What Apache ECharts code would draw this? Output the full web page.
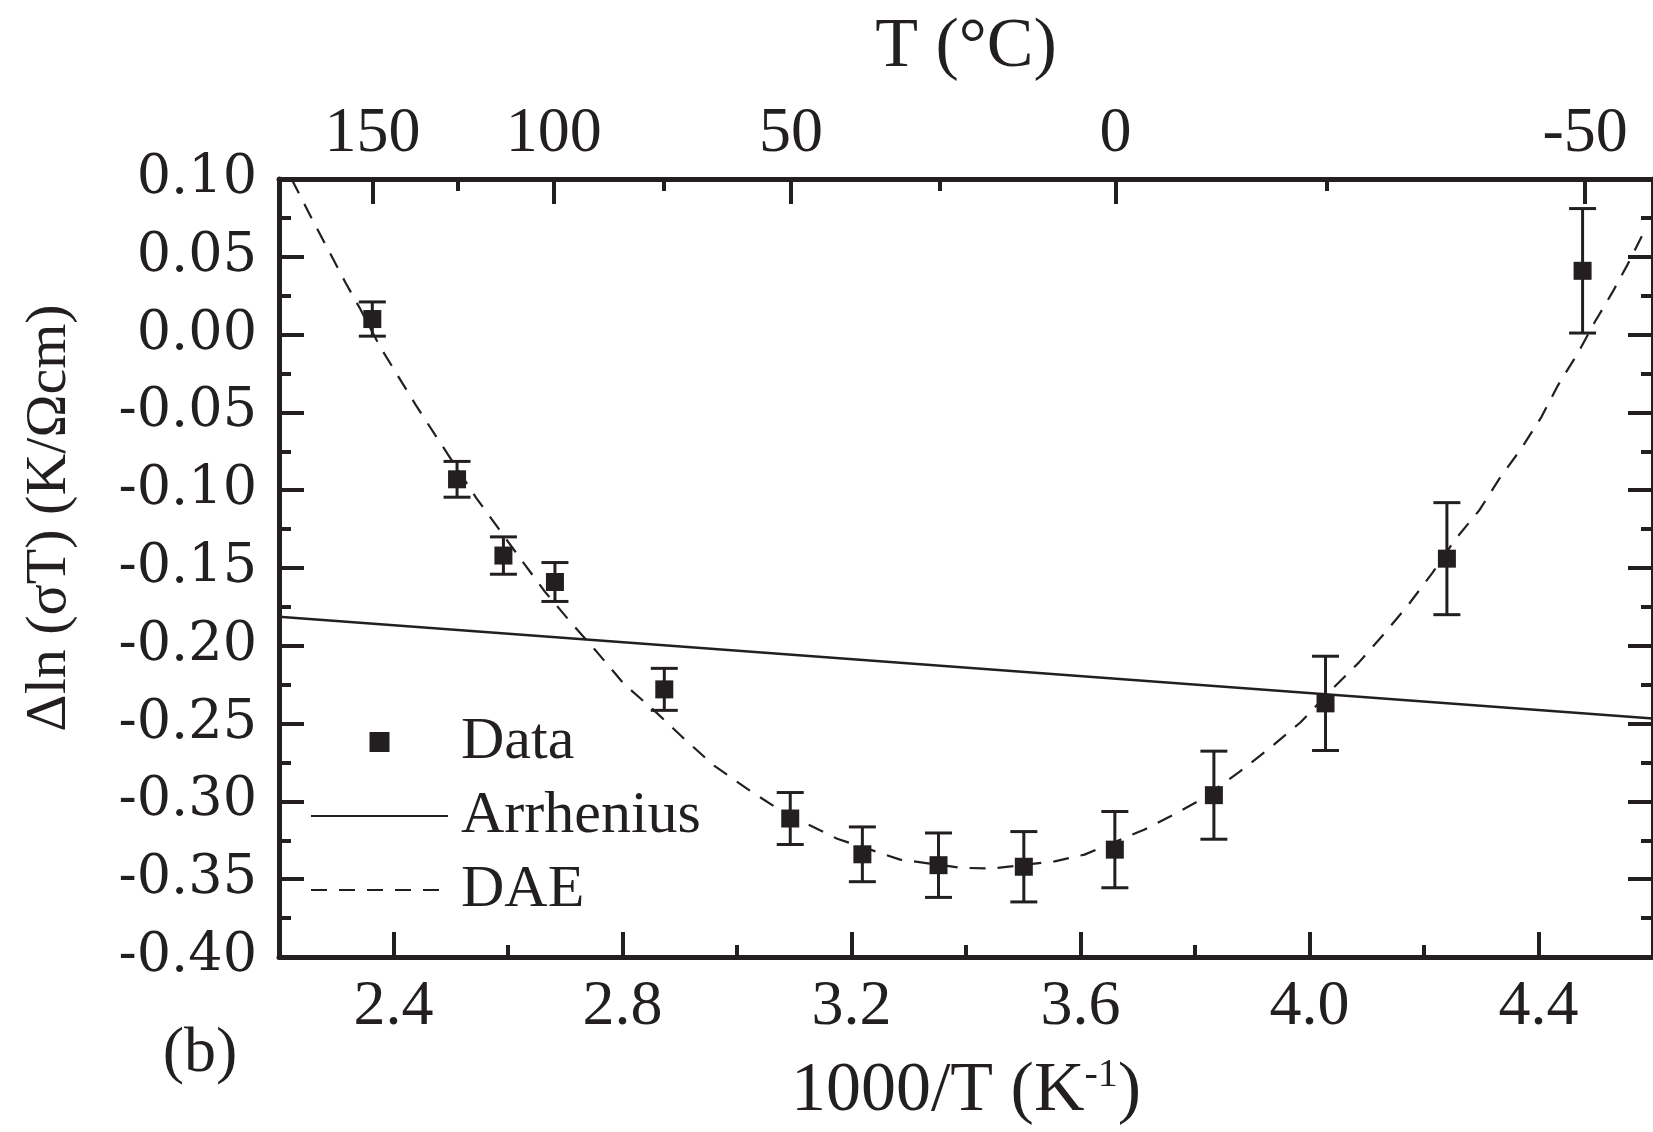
<!DOCTYPE html>
<html>
<head>
<meta charset="utf-8">
<script src="https://cdn.jsdelivr.net/npm/echarts@6/dist/echarts.min.js"></script>
<style>
html,body{margin:0;padding:0;background:#fff;overflow:hidden;}
#chart{width:1653px;height:1132px;}
</style>
</head>
<body>
<div id="chart"></div>
<script>
// ---- data ----
const xMajorTicks = [2.4, 2.8, 3.2, 3.6, 4.0, 4.4];
const xMinorTicks = [2.6, 3.0, 3.4, 3.8, 4.2];
const topLabelCelsius = [150, 100, 50, 0, -50];
const topMinorCelsius = [125, 75, 25, -25];

const dataX = [2.363, 2.511, 2.592, 2.682, 2.873, 3.093, 3.219, 3.352, 3.501, 3.660, 3.833, 4.028, 4.240, 4.477];
const dataY = [0.010, -0.093, -0.142, -0.159, -0.228, -0.311, -0.334, -0.341, -0.342, -0.331, -0.296, -0.237, -0.144, 0.041];
const dataErr = [0.011, 0.0115, 0.012, 0.0125, 0.0135, 0.0167, 0.0176, 0.0207, 0.0226, 0.0245, 0.0283, 0.0303, 0.036, 0.040];

const arrheniusX = [2.2, 4.6];
const arrheniusY = [-0.1814, -0.2467];

const daeX = [2.222, 2.261, 2.287, 2.316, 2.342, 2.377, 2.409, 2.441, 2.475, 2.545, 2.583, 2.623, 2.664, 2.708, 2.754, 2.803, 2.856, 2.908, 2.960, 3.018, 3.067, 3.125, 3.175, 3.285, 3.392, 3.447, 3.555, 3.607, 3.711, 3.769, 3.813, 3.877, 3.932, 3.984, 4.039, 4.086, 4.132, 4.173, 4.215, 4.254, 4.297, 4.332, 4.370, 4.405, 4.434, 4.468, 4.498, 4.529, 4.556, 4.585];
const daeY = [0.100, 0.0719, 0.0538, 0.0335, 0.0164, -0.0081, -0.0273, -0.0465, -0.0657, -0.1052, -0.1244, -0.1447, -0.165, -0.1842, -0.2034, -0.2247, -0.2418, -0.2599, -0.277, -0.292, -0.3037, -0.315, -0.324, -0.3374, -0.3427, -0.3431, -0.3385, -0.3342, -0.3182, -0.3073, -0.2983, -0.2812, -0.2653, -0.2493, -0.228, -0.2108, -0.1916, -0.1735, -0.153, -0.1319, -0.1127, -0.0924, -0.0732, -0.053, -0.0326, -0.0124, 0.0079, 0.0271, 0.0453, 0.0666];

// ---- styling ----
const INK = '#231f20';
const SERIF = '"Liberation Serif", "Times New Roman", serif';
const toInvK = c => 1000 / (c + 273.15);

const chart = echarts.init(document.getElementById('chart'), null, {renderer: 'canvas'});

const baseX = {type: 'value', min: 2.2, max: 4.6, splitLine: {show: false}, gridIndex: 0};
const tickStyle = {color: INK, width: 4};

const option = {
  backgroundColor: '#ffffff',
  animation: false,
  grid: {left: 279, top: 179, width: 1380, height: 781, containLabel: false},
  legend: {
    orient: 'vertical', left: 305, top: 706, itemWidth: 137, itemHeight: 25, itemGap: 12,
    selectedMode: false,
    textStyle: {fontFamily: SERIF, fontSize: 60, color: INK, lineHeight: 62, padding: [0, 0, 0, 8]},
    data: [
      {name: 'Data'},
      {name: 'Arrhenius', itemStyle: {opacity: 0}},
      {name: 'DAE', itemStyle: {opacity: 0}}
    ]
  },
  xAxis: [
    Object.assign({}, baseX, {
      position: 'bottom',
      name: '1000/T (K{sup|-1})', nameLocation: 'middle', nameGap: 98,
      nameTextStyle: {fontFamily: SERIF, fontSize: 70, color: INK,
        rich: {sup: {fontFamily: SERIF, fontSize: 40, color: INK, verticalAlign: 'top', padding: [0, 0, 34, 0]}}},
      axisLine: {onZero: false, lineStyle: {color: INK, width: 5}},
      axisTick: {inside: true, length: 25, lineStyle: tickStyle, customValues: xMajorTicks},
      axisLabel: {customValues: xMajorTicks, margin: 18, fontFamily: SERIF, fontSize: 64, color: INK,
        formatter: v => v.toFixed(1)}
    }),
    Object.assign({}, baseX, {
      position: 'bottom',
      axisLine: {show: false, onZero: false},
      axisTick: {inside: true, length: 12, lineStyle: tickStyle, customValues: xMinorTicks},
      axisLabel: {show: false}
    }),
    Object.assign({}, baseX, {
      position: 'top',
      name: 'T (°C)', nameLocation: 'middle', nameGap: 96,
      nameTextStyle: {fontFamily: SERIF, fontSize: 70, color: INK},
      axisLine: {onZero: false, lineStyle: {color: INK, width: 5}},
      axisTick: {inside: true, length: 25, lineStyle: tickStyle, customValues: topLabelCelsius.map(toInvK)},
      axisLabel: {customValues: topLabelCelsius.map(toInvK), margin: 13, fontFamily: SERIF, fontSize: 64, color: INK,
        formatter: v => String(Math.round(1000 / v - 273.15))}
    }),
    Object.assign({}, baseX, {
      position: 'top',
      axisLine: {show: false, onZero: false},
      axisTick: {inside: true, length: 12, lineStyle: tickStyle, customValues: topMinorCelsius.map(toInvK)},
      axisLabel: {show: false}
    })
  ],
  yAxis: [
    {
      type: 'value', position: 'left', min: -0.4, max: 0.1, interval: 0.05,
      name: 'Δln (σT) (K/Ωcm)', nameLocation: 'middle', nameGap: 200, nameRotate: 90,
      nameTextStyle: {fontFamily: SERIF, fontSize: 58, color: INK, padding: [0, 0, 0, 100]},
      splitLine: {show: false},
      axisLine: {onZero: false, lineStyle: {color: INK, width: 5}},
      axisTick: {inside: true, length: 25, lineStyle: tickStyle},
      minorTick: {show: true, splitNumber: 2, length: 12, lineStyle: tickStyle},
      minorSplitLine: {show: false},
      axisLabel: {margin: 22, fontFamily: '"DejaVu Serif", serif', fontSize: 54, color: INK,
        formatter: v => (Math.abs(v) < 1e-9 ? '0.00' : v.toFixed(2))}
    },
    {
      type: 'value', position: 'right', min: -0.4, max: 0.1, interval: 0.05,
      splitLine: {show: false},
      axisLine: {onZero: false, lineStyle: {color: INK, width: 5}},
      axisTick: {inside: true, length: 25, lineStyle: tickStyle},
      minorTick: {show: true, splitNumber: 2, length: 12, lineStyle: tickStyle},
      minorSplitLine: {show: false},
      axisLabel: {show: false}
    }
  ],
  graphic: [
    {type: 'text', x: 200, y: 1054, z: 100,
     style: {text: '(b)', font: '64px "Liberation Serif"', fill: INK, textAlign: 'center', textVerticalAlign: 'middle', verticalAlign: 'middle'}}
  ],
  series: [
    {
      name: 'Arrhenius', type: 'line', xAxisIndex: 0, yAxisIndex: 0,
      data: arrheniusX.map((x, i) => [x, arrheniusY[i]]),
      showSymbol: false, symbol: 'none', clip: true, z: 2,
      lineStyle: {color: INK, width: 2.5, type: 'solid'}, itemStyle: {color: INK}
    },
    {
      name: 'DAE', type: 'line', xAxisIndex: 0, yAxisIndex: 0,
      data: daeX.map((x, i) => [x, daeY[i]]),
      showSymbol: false, symbol: 'none', clip: true, z: 2,
      lineStyle: {color: INK, width: 2.2, type: [16, 12]}, itemStyle: {color: INK}
    },
    {
      name: 'errorbars', type: 'custom', xAxisIndex: 0, yAxisIndex: 0, z: 3,
      data: dataX.map((x, i) => [x, dataY[i], dataErr[i]]),
      encode: {x: 0, y: 1},
      renderItem: function (params, api) {
        const x = api.value(0), y = api.value(1), e = api.value(2);
        const t = api.coord([x, y + e]);
        const b = api.coord([x, y - e]);
        const hw = 13.5;
        const st = {stroke: INK, lineWidth: 3};
        return {type: 'group', children: [
          {type: 'line', shape: {x1: t[0], y1: t[1], x2: b[0], y2: b[1]}, style: st},
          {type: 'line', shape: {x1: t[0] - hw, y1: t[1], x2: t[0] + hw, y2: t[1]}, style: st},
          {type: 'line', shape: {x1: b[0] - hw, y1: b[1], x2: b[0] + hw, y2: b[1]}, style: st}
        ]};
      }
    },
    {
      name: 'Data', type: 'line', xAxisIndex: 0, yAxisIndex: 0, z: 4,
      data: dataX.map((x, i) => [x, dataY[i]]),
      symbol: 'rect', symbolSize: 18, showSymbol: true,
      lineStyle: {width: 0, opacity: 0}, itemStyle: {color: INK}
    }
  ]
};
chart.setOption(option);
</script>
</body>
</html>
